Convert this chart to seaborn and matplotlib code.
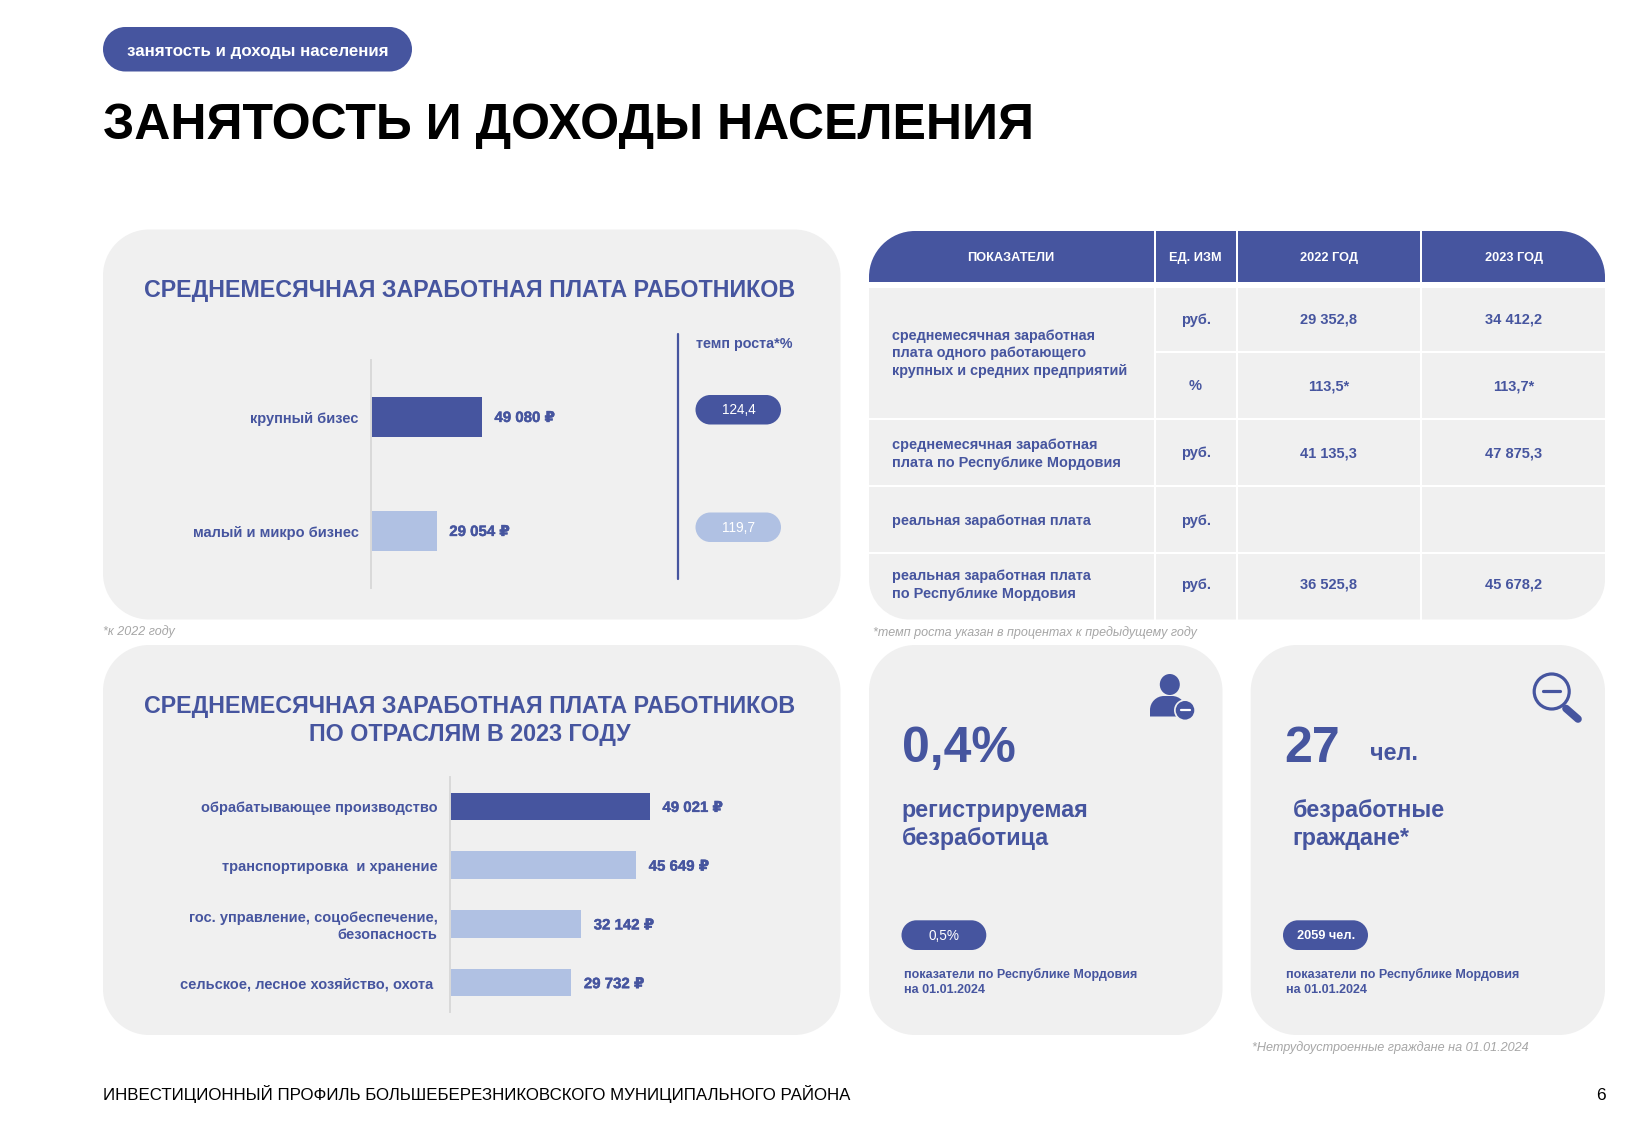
import matplotlib
matplotlib.use("Agg")
import matplotlib.patheffects as pe
import matplotlib.pyplot as plt
import pandas as pd
import seaborn as sns
from matplotlib.patches import Circle, Ellipse, PathPatch, Rectangle
from matplotlib.path import Path

# ==============================
# DATA
# ==============================
size_labels = ["крупный бизес", "малый и микро бизнес"]
size_values = [49080, 29054]
growth_values = ["124,4", "119,7"]

branch_labels = [
    "обрабатывающее производство",
    "транспортировка  и хранение",
    "гос. управление, соцобеспечение,\nбезопасность",
    "сельское, лесное хозяйство, охота ",
]
branch_values = [49021, 45649, 32142, 29732]

table_header = ["ПОКАЗАТЕЛИ", "ЕД. ИЗМ", "2022 ГОД", "2023 ГОД"]
table_units = ["руб.", "%", "руб.", "руб.", "руб."]
table_2022 = ["29 352,8", "113,5*", "41 135,3", "", "36 525,8"]
table_2023 = ["34 412,2", "113,7*", "47 875,3", "", "45 678,2"]

BLUE = "#46559F"
LIGHT = "#B0C1E3"
PANEL = "#F0F0F0"
GREY = "#A6A6A6"

plt.rcParams["font.family"] = ["Liberation Sans", "DejaVu Sans"]
sns.set_theme(style="white", rc={"font.family": ["Liberation Sans", "DejaVu Sans"]})

W, H = 1625, 1125
fig = plt.figure(figsize=(W / 100, H / 100), dpi=100, facecolor="white")

# background layer in pixel coordinates
bg = fig.add_axes([0, 0, 1, 1], zorder=0)
bg.set_xlim(0, W)
bg.set_ylim(H, 0)
bg.axis("off")


def round_box(x0, y0, x1, y1, color, tl=0, tr=0, br=0, bl=0, zorder=1):
    k = Path.CURVE4
    c = 0.45
    verts = [(x0 + tl, y0), (x1 - tr, y0),
             (x1 - tr * c, y0), (x1, y0 + tr * c), (x1, y0 + tr),
             (x1, y1 - br),
             (x1, y1 - br * c), (x1 - br * c, y1), (x1 - br, y1),
             (x0 + bl, y1),
             (x0 + bl * c, y1), (x0, y1 - bl * c), (x0, y1 - bl),
             (x0, y0 + tl),
             (x0, y0 + tl * c), (x0 + tl * c, y0), (x0 + tl, y0)]
    codes = [Path.MOVETO, Path.LINETO, k, k, k, Path.LINETO, k, k, k,
             Path.LINETO, k, k, k, Path.LINETO, k, k, k]
    bg.add_patch(PathPatch(Path(verts, codes), fc=color, ec="none", zorder=zorder))


def pill(x0, y0, x1, y1, color):
    r = (y1 - y0) / 2
    round_box(x0, y0, x1, y1, color, r, r, r, r, zorder=2)


def label(x, y, s, size, color=BLUE, weight="bold", ha="left", va="center", style="normal", ls=1.2):
    bg.text(x, y, s, fontsize=size, color=color, fontweight=weight, ha=ha, va=va,
            fontstyle=style, linespacing=ls, zorder=5)


# ==============================
# PAGE HEADER / FOOTER
# ==============================
pill(103, 27, 412, 71.5, BLUE)
label(127, 51.5, "занятость и доходы населения", 12.15, color="white")
label(103, 139, "ЗАНЯТОСТЬ И ДОХОДЫ НАСЕЛЕНИЯ", 36, color="black", va="baseline")
label(103, 1094, "ИНВЕСТИЦИОННЫЙ ПРОФИЛЬ БОЛЬШЕБЕРЕЗНИКОВСКОГО МУНИЦИПАЛЬНОГО РАЙОНА", 12.13,
      color="black", weight="normal")
label(1600.5, 1095, "6", 12.4, color="black", weight="normal", ha="center")

# ==============================
# PANELS
# ==============================
R = 46
round_box(103, 229.5, 840.5, 619.5, PANEL, R, R, R, R)
round_box(103, 645, 840.5, 1035, PANEL, R, R, R, R)
round_box(869, 645, 1222.5, 1035, PANEL, R, R, R, R)
round_box(1250.7, 645, 1605, 1035, PANEL, R, R, R, R)

label(469.5, 291, "СРЕДНЕМЕСЯЧНАЯ ЗАРАБОТНАЯ ПЛАТА РАБОТНИКОВ", 16.72, ha="center")
label(469.5, 720.5, "СРЕДНЕМЕСЯЧНАЯ ЗАРАБОТНАЯ ПЛАТА РАБОТНИКОВ\nПО ОТРАСЛЯМ В 2023 ГОДУ", 16.72,
      ha="center", ls=1.3)

label(103, 632, "*к 2022 году", 9.0, color=GREY, weight="normal", style="italic")
label(873, 632.5, "*темп роста указан в процентах к предыдущему году", 9.0, color=GREY,
      weight="normal", style="italic")
label(1251.7, 1047.7, "*Нетрудоустроенные граждане на 01.01.2024", 9.05, color=GREY, weight="normal",
      style="italic")


# ==============================
# BAR CHARTS
# ==============================
def bar_chart(rect, labels, values, colors, bar_width, xmax, pad, label_shift):
    x0, y0, x1, y1 = rect
    ax = fig.add_axes([x0 / W, 1 - y1 / H, (x1 - x0) / W, (y1 - y0) / H], zorder=3)
    ax.patch.set_alpha(0)
    df = pd.DataFrame({"label": labels, "value": values})
    sns.barplot(data=df, x="value", y="label", hue="label", palette=colors, saturation=1,
                width=bar_width, legend=False, linewidth=0, ax=ax)
    ax.set_xlim(0, xmax)
    ax.set_xlabel("")
    ax.set_ylabel("")
    ax.xaxis.set_visible(False)
    ax.tick_params(axis="y", length=0, pad=pad, labelsize=10.5, labelcolor=BLUE)
    for t in ax.get_yticklabels():
        t.set_fontweight("bold")
        t.set_linespacing(1.2)
    sns.despine(ax=ax, top=True, right=True, bottom=True)
    ax.spines["left"].set_color("#D9D9D9")
    ax.spines["left"].set_linewidth(1.4)
    for cont, v in zip(ax.containers, values):
        txt = f"{v:,}".replace(",", " ") + " ₽"
        anns = ax.bar_label(cont, labels=[txt], padding=9.2, color=BLUE, fontsize=10.8,
                            fontweight="bold",
                            path_effects=[pe.withStroke(linewidth=0.3, foreground=BLUE)])
        for a in anns:
            a.xyann = (a.xyann[0], label_shift)
    return ax


bar_chart((371, 360, 650, 588), size_labels, size_values, [BLUE, LIGHT], 0.357, 123700, 9, -0.7)
bar_chart((450, 777, 830, 1012), branch_labels, branch_values, [BLUE, LIGHT, LIGHT, LIGHT], 0.466, 93300, 9, -1.1)

# growth column
bg.plot([678, 678], [333.5, 579], color=BLUE, lw=1.6, zorder=3)
label(695.5, 344, "темп роста*%", 10.4)
pill(695.5, 395, 781, 424.5, BLUE)
pill(695.5, 512.5, 781, 542, LIGHT)
label(738.5, 410.5, growth_values[0], 9.8, color="white", weight="normal", ha="center")
label(738.5, 528, growth_values[1], 9.8, color="white", weight="normal", ha="center")

# ==============================
# TABLE
# ==============================
round_box(869, 231, 1605, 282, BLUE, 46, 46, 0, 0)
round_box(869, 288, 1605, 619.5, PANEL, 0, 0, 40, 40)

col_lines = [1154.6, 1236.6, 1420.6]
row_lines = [351.8, 418.8, 485.8, 552.7]
for x in col_lines:
    bg.add_patch(Rectangle((x - 1, 229), 2, 392, fc="white", ec="none", zorder=3))
for i, y in enumerate(row_lines):
    x_start = 1155 if i == 0 else 869
    bg.add_patch(Rectangle((x_start, y - 1), 1605 - x_start + 1, 2, fc="white", ec="none", zorder=3))

col_centers = [1011, 1195.6, 1328.8, 1513.7]
row_centers = [320, 386.5, 453.5, 520.7, 584.5]
for x, s in zip(col_centers, table_header):
    label(x, 258, s, 9.2, color="white", ha="center")
for y, u, a, b in zip(row_centers, table_units, table_2022, table_2023):
    label(col_centers[1], y, u, 10.5, ha="center")
    label(col_centers[2], y, a, 10.5, ha="center")
    label(col_centers[3], y, b, 10.5, ha="center")

label(892, 353.5, "среднемесячная заработная\nплата одного работающего\nкрупных и средних предприятий", 10.4, ls=1.36)
label(892, 454, "среднемесячная заработная\nплата по Республике Мордовия", 10.45, ls=1.36)
label(892, 520.7, "реальная заработная плата", 10.45)
label(892, 585, "реальная заработная плата\nпо Республике Мордовия", 10.45, ls=1.32)

# ==============================
# CARDS
# ==============================
label(902.4, 761.7, "0,4%", 36, va="baseline")
label(901.5, 824.5, "регистрируемая\nбезработица", 16.75, ls=1.28)
pill(901.5, 920.3, 986.3, 950, BLUE)
label(944.4, 935.5, "0,5%", 9.8, color="white", weight="normal", ha="center")
label(904, 982, "показатели по Республике Мордовия\nна 01.01.2024", 9.0, ls=1.31)

label(1284, 761.7, "27", 36, va="baseline")
label(1370, 760, "чел.", 16.8, va="baseline")
label(1292.7, 824.5, "безработные\nграждане*", 16.75, ls=1.28)
pill(1283, 920.3, 1368, 950, BLUE)
label(1326, 936, "2059 чел.", 9.15, color="white", ha="center")
label(1286, 982, "показатели по Республике Мордовия\nна 01.01.2024", 9.0, ls=1.31)

# person icon
bg.add_patch(Ellipse((1169.8, 684.5), 20, 21, fc=BLUE, ec="none", zorder=4))
round_box(1150, 696, 1186, 716.5, BLUE, 14, 14, 0, 0, zorder=4)
bg.add_patch(Circle((1185, 710.3), 11, fc=PANEL, ec="none", zorder=4))
bg.add_patch(Circle((1185, 710.3), 9.3, fc=BLUE, ec="none", zorder=4))
bg.plot([1180.5, 1189.5], [710.3, 710.3], color="white", lw=1.6, zorder=5)

# magnifier icon
bg.add_patch(Circle((1551.7, 691.5), 17.5, fc="none", ec=BLUE, lw=2.3, zorder=4))
bg.plot([1543, 1560], [691, 691], color=BLUE, lw=2.3, zorder=4)
bg.plot([1566, 1578], [708.5, 719], color=BLUE, lw=5.5, solid_capstyle="round", zorder=4)

fig.savefig("out.png", dpi=100, facecolor="white")
